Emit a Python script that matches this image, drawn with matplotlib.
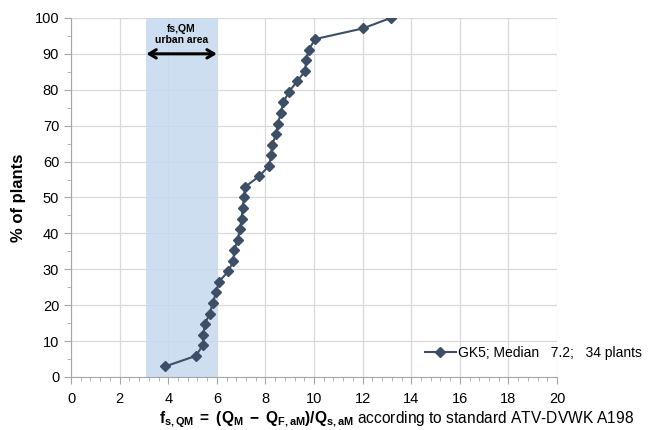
import matplotlib
matplotlib.use("Agg")
import matplotlib.pyplot as plt
from matplotlib.ticker import MultipleLocator

plt.rcParams["font.family"] = ["Liberation Sans", "DejaVu Sans"]
plt.rcParams["mathtext.fontset"] = "custom"
plt.rcParams["mathtext.rm"] = "Liberation Sans"
plt.rcParams["mathtext.it"] = "Liberation Sans"
plt.rcParams["mathtext.bf"] = "Liberation Sans:bold"

# f_s,QM per plant, sorted
fs_qm = [3.87, 5.14, 5.42, 5.45, 5.50, 5.71, 5.83, 5.97, 6.08, 6.47, 6.68, 6.71,
         6.86, 6.95, 7.02, 7.06, 7.12, 7.16, 7.74, 8.15, 8.24, 8.28, 8.44, 8.52,
         8.63, 8.74, 8.96, 9.31, 9.64, 9.67, 9.78, 10.05, 12.0, 13.16]
n_plants = len(fs_qm)
pct_plants = [100.0 * (i + 1) / n_plants for i in range(n_plants)]

urban_range = [3.1, 6.0]
series_label = "GK5; Median   7.2;   34 plants"

fig = plt.figure(figsize=(6.6, 4.3), dpi=100)
ax = fig.add_axes([0.1076, 0.1233, 0.7364, 0.835])

ax.axvspan(urban_range[0], urban_range[1], color="#c6d9ef", alpha=0.85, zorder=1, lw=0)
ax.annotate("", xy=(urban_range[0], 90), xytext=(urban_range[1], 90),
            arrowprops=dict(arrowstyle="<->,head_length=0.5,head_width=0.3",
                            color="black", lw=2.2, shrinkA=0, shrinkB=0),
            zorder=4)
ax.text(sum(urban_range) / 2, 95.3, "fs,QM\nurban area", ha="center", va="center",
        fontsize=7.5, fontweight="bold", linespacing=1.15, zorder=4)

ax.plot(fs_qm, pct_plants, color="#3d4f66", marker="D", markersize=5, lw=1.5,
        label=series_label, zorder=5)

ax.set_xlim(0, 20)
ax.set_ylim(0, 100)
ax.xaxis.set_major_locator(MultipleLocator(2))
ax.xaxis.set_minor_locator(MultipleLocator(0.4))
ax.yaxis.set_major_locator(MultipleLocator(10))
ax.yaxis.set_minor_locator(MultipleLocator(5))
ax.grid(True, which="major", color="#d9d9d9", lw=0.9, zorder=0)
ax.set_axisbelow(True)
for s in ["top", "right"]:
    ax.spines[s].set_visible(False)
for s in ["left", "bottom"]:
    ax.spines[s].set_color("#a6a6a6")
ax.tick_params(which="both", color="#a6a6a6", labelsize=10.5)
ax.tick_params(which="major", length=5)
ax.tick_params(which="minor", length=3)
ax.tick_params(axis="x", pad=6)

ax.set_ylabel("% of plants", fontsize=12, fontweight="bold", labelpad=6)
ax.set_xlabel(r"$\mathbf{f_{s,QM}\ =\ (Q_M\ -\ Q_{F,aM})/Q_{s,aM}}$ according to standard ATV-DVWK A198",
              fontsize=11.2, labelpad=2, x=0.67)

ax.legend(loc="center left", bbox_to_anchor=(0.625, 0.18), bbox_transform=fig.transFigure,
          frameon=False, fontsize=10, handlelength=2.2, handletextpad=0.2)

fig.savefig("out.png", dpi=100)
